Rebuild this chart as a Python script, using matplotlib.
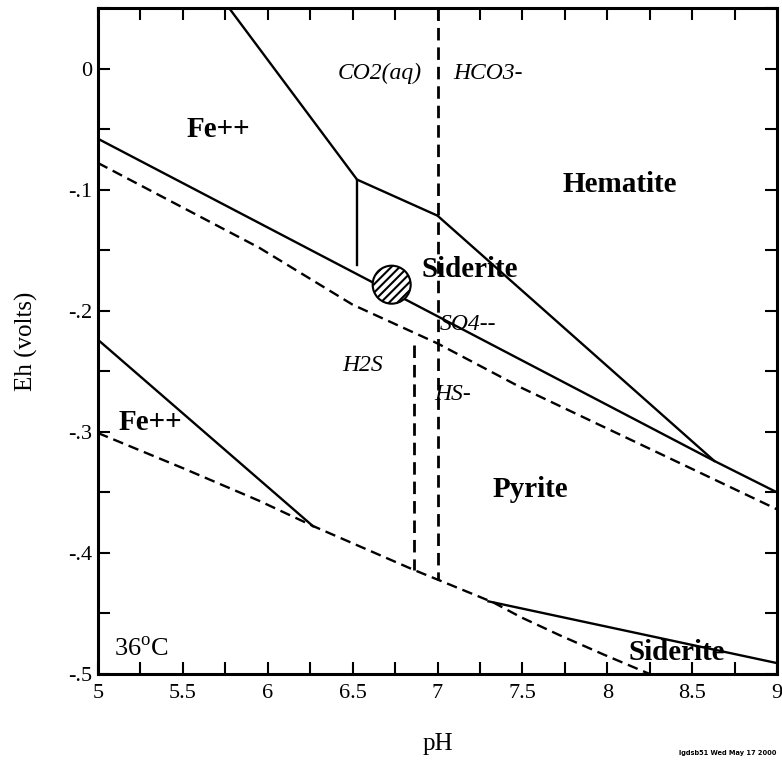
import matplotlib
matplotlib.use("Agg")
import matplotlib.pyplot as plt
from matplotlib.patches import Ellipse
from matplotlib.ticker import MultipleLocator, FixedLocator

plt.rcParams['font.family'] = ['Liberation Serif', 'DejaVu Serif']
plt.rcParams['mathtext.fontset'] = 'custom'
plt.rcParams['mathtext.rm'] = 'Liberation Serif'
plt.rcParams['hatch.linewidth'] = 1.5

# phase boundaries (pH, Eh in volts)
ph_fe_hem = [5.772, 6.526, 7.0, 8.63]
eh_fe_hem = [0.05, -0.0917, -0.1215, -0.324]

ph_fe_sid_vert = [6.526, 6.526]
eh_fe_sid_vert = [-0.0917, -0.162]

ph_mid = [5.0, 8.63, 9.0]
eh_mid = [-0.058, -0.324, -0.350]

ph_fe_pyr = [5.0, 6.267]
eh_fe_pyr = [-0.224, -0.378]

ph_pyr_sid = [7.3, 9.0]
eh_pyr_sid = [-0.440, -0.491]

# sulfur and carbon species boundaries (dashed)
ph_so4 = [5.0, 5.95, 6.5, 7.0, 7.5, 9.0]
eh_so4 = [-0.078, -0.148, -0.195, -0.227, -0.264, -0.364]

ph_water = [5.0, 5.5, 5.95, 6.27, 6.86, 7.0, 7.33, 7.49, 7.72, 7.98, 8.25]
eh_water = [-0.301, -0.330, -0.357, -0.378, -0.414, -0.422, -0.441, -0.453, -0.468, -0.484, -0.50]

ph_co2 = [7.0, 7.0]
eh_co2 = [0.05, -0.422]

ph_h2s = [6.862, 6.862]
eh_h2s = [-0.228, -0.414]

# sample point
sample_ph = 6.73
sample_eh = -0.1785

x_ticks = [5, 5.5, 6, 6.5, 7, 7.5, 8, 8.5, 9]
x_labels = ['5', '5.5', '6', '6.5', '7', '7.5', '8', '8.5', '9']
y_ticks = [0, -0.1, -0.2, -0.3, -0.4, -0.5]
y_labels = ['0', '-.1', '-.2', '-.3', '-.4', '-.5']

fig = plt.figure(figsize=(7.82, 7.62), dpi=100)
ax = fig.add_axes([98 / 782, 1 - 674 / 762, 679 / 782, 666 / 762])

lw = 1.7
dash = (0, (4.5, 2.5))
ax.plot(ph_fe_hem, eh_fe_hem, color='black', lw=lw)
ax.plot(ph_fe_sid_vert, eh_fe_sid_vert, color='black', lw=lw)
ax.plot(ph_mid, eh_mid, color='black', lw=lw)
ax.plot(ph_fe_pyr, eh_fe_pyr, color='black', lw=lw)
ax.plot(ph_pyr_sid, eh_pyr_sid, color='black', lw=lw)
ax.plot(ph_so4, eh_so4, color='black', lw=lw, linestyle=dash)
ax.plot(ph_water, eh_water, color='black', lw=lw, linestyle=dash)
ax.plot(ph_co2, eh_co2, color='black', lw=lw + 0.3, linestyle=dash)
ax.plot(ph_h2s, eh_h2s, color='black', lw=lw + 0.3, linestyle=dash)

ax.add_patch(Ellipse((sample_ph, sample_eh), 0.224, 0.0314, facecolor='white',
                     edgecolor='black', hatch='////', lw=1.5, zorder=5))

ax.set_xlim(5, 9)
ax.set_ylim(-0.5, 0.05)

ax.xaxis.set_major_locator(FixedLocator(x_ticks))
ax.set_xticklabels(x_labels)
ax.xaxis.set_minor_locator(MultipleLocator(0.25))
ax.yaxis.set_major_locator(FixedLocator(y_ticks))
ax.set_yticklabels(y_labels)
ax.yaxis.set_minor_locator(MultipleLocator(0.05))
ax.tick_params(which='both', direction='in', top=True, right=True,
               length=8.5, width=1.5, labelsize=16)
ax.tick_params(axis='x', pad=7)
ax.tick_params(axis='y', pad=4)
for s in ax.spines.values():
    s.set_linewidth(2.2)

ax.set_xlabel('pH', fontsize=18, labelpad=22)
ax.set_ylabel('Eh (volts)', fontsize=18, labelpad=22)

bold = dict(fontsize=21, fontweight='bold', ha='center', va='center')
ax.text(5.707, -0.050, 'Fe++', **bold)
ax.text(8.075, -0.096, 'Hematite', **bold)
ax.text(7.19, -0.166, 'Siderite', **bold)
ax.text(7.545, -0.348, 'Pyrite', **bold)
ax.text(5.306, -0.2926, 'Fe++', **bold)
ax.text(8.41, -0.482, 'Siderite', **bold)

ital = dict(fontsize=17, fontstyle='italic', ha='center', va='center')
ax.text(6.66, -0.004, 'CO2(aq)', **ital)
ax.text(7.30, -0.004, 'HCO3-', **ital)
ax.text(7.18, -0.2116, 'SO4--', **ital)
ax.text(6.56, -0.2455, 'H2S', **ital)
ax.text(7.09, -0.2694, 'HS-', **ital)

ax.text(5.255, -0.480, r'36$^{\mathrm{o}}$C', fontsize=19, ha='center', va='center')

fig.text(776 / 782, 1 - 753 / 762, 'lgdsb51 Wed May 17 2000', fontsize=4.8,
         family='DejaVu Sans', fontweight='bold', ha='right', va='center')

fig.savefig('out.png', dpi=100)
